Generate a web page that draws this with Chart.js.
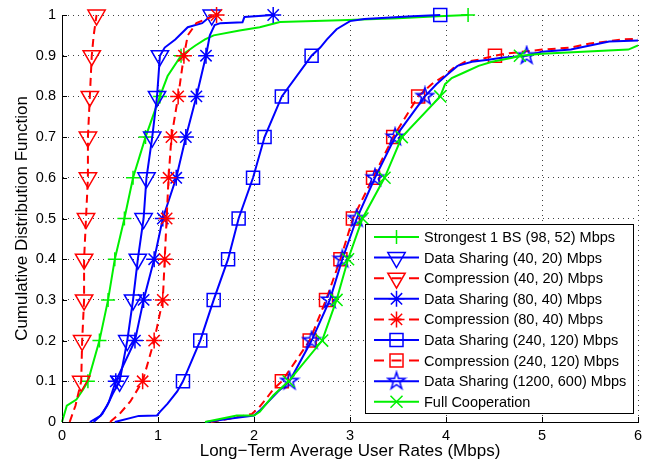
<!DOCTYPE html>
<html>
<head>
<meta charset="utf-8">
<script src="https://cdn.jsdelivr.net/npm/chart.js@4.4.0/dist/chart.umd.min.js"></script>
<style>
  html, body { margin: 0; padding: 0; background: #fff; }
</style>
</head>
<body>
<canvas id="cdf" width="650" height="462"></canvas>
<script>
// ------------------------------------------------------------
// data (x = rate in Mbps, y = CDF level)
// ------------------------------------------------------------
const xTicks = [0, 1, 2, 3, 4, 5, 6];
const xTickLabels = ['0', '1', '2', '3', '4', '5', '6'];
const yTicks = [0, 0.1, 0.2, 0.3, 0.4, 0.5, 0.6, 0.7, 0.8, 0.9, 1];
const yTickLabels = ['0', '0.1', '0.2', '0.3', '0.4', '0.5', '0.6', '0.7', '0.8', '0.9', '1'];

const seriesNames = [
    'Strongest 1 BS (98, 52) Mbps',
    'Data Sharing (40, 20) Mbps',
    'Compression (40, 20) Mbps',
    'Data Sharing (80, 40) Mbps',
    'Compression (80, 40) Mbps',
    'Data Sharing (240, 120) Mbps',
    'Compression (240, 120) Mbps',
    'Data Sharing (1200, 600) Mbps',
    'Full Cooperation'
];

const strongestX = [0, 0.05, 0.15, 0.22, 0.27, 0.39, 0.48, 0.55, 0.65, 0.74, 0.87, 1.02, 1.1, 1.24, 1.39, 1.49, 1.58, 1.85, 2.06, 2.27, 2.9, 3.5, 3.92, 4.23];
const strongestY = [0, 0.04, 0.055, 0.08, 0.1, 0.2, 0.3, 0.4, 0.5, 0.6, 0.7, 0.8, 0.85, 0.9, 0.925, 0.94, 0.95, 0.962, 0.97, 0.983, 0.987, 0.992, 0.997, 1];

const ds40X = [0.29, 0.4, 0.47, 0.53, 0.6, 0.68, 0.74, 0.79, 0.85, 0.88, 0.94, 0.99, 1.02, 1.07, 1.18, 1.31, 1.46, 1.56];
const ds40Y = [0, 0.015, 0.04, 0.07, 0.1, 0.2, 0.3, 0.4, 0.5, 0.6, 0.7, 0.8, 0.9, 0.92, 0.94, 0.97, 0.98, 1];

const comp40X = [0.08, 0.14, 0.2, 0.21, 0.23, 0.23, 0.25, 0.27, 0.27, 0.29, 0.31, 0.33, 0.36];
const comp40Y = [0, 0.04, 0.1, 0.2, 0.3, 0.4, 0.5, 0.6, 0.7, 0.8, 0.9, 0.95, 1];

const ds80X = [0.33, 0.42, 0.49, 0.56, 0.76, 0.85, 0.96, 1.05, 1.19, 1.29, 1.4, 1.5, 1.54, 1.59, 1.65, 1.88, 1.9, 2.2];
const ds80Y = [0, 0.02, 0.05, 0.1, 0.2, 0.3, 0.4, 0.5, 0.6, 0.7, 0.8, 0.9, 0.95, 0.975, 0.98, 0.982, 0.995, 1];

const comp80X = [0.5, 0.6, 0.71, 0.84, 0.96, 1.05, 1.07, 1.09, 1.11, 1.14, 1.21, 1.27, 1.31, 1.4, 1.5, 1.61];
const comp80Y = [0, 0.02, 0.05, 0.1, 0.2, 0.3, 0.4, 0.5, 0.6, 0.7, 0.8, 0.9, 0.95, 0.98, 0.99, 1];

const ds240X = [0.55, 0.8, 0.99, 1.02, 1.1, 1.2, 1.26, 1.44, 1.58, 1.73, 1.84, 1.99, 2.11, 2.29, 2.6, 2.69, 2.76, 2.86, 3.0, 3.15, 3.65, 3.94];
const ds240Y = [0, 0.015, 0.016, 0.025, 0.045, 0.075, 0.1, 0.2, 0.3, 0.4, 0.5, 0.6, 0.7, 0.8, 0.9, 0.92, 0.94, 0.965, 0.985, 0.99, 0.997, 1];

const comp240X = [1.55, 1.85, 1.98, 2.05, 2.12, 2.2, 2.29, 2.58, 2.75, 2.9, 3.03, 3.24, 3.45, 3.71, 3.85, 3.98, 4.08, 4.2, 4.34, 4.51, 4.62, 5.0, 5.3, 5.5, 5.85, 6.3];
const comp240Y = [0, 0.013, 0.02, 0.035, 0.055, 0.08, 0.1, 0.2, 0.3, 0.4, 0.5, 0.6, 0.7, 0.8, 0.83, 0.85, 0.87, 0.885, 0.89, 0.9, 0.905, 0.915, 0.92, 0.93, 0.94, 0.945];

const ds1200X = [1.5, 1.8, 2.0, 2.06, 2.15, 2.25, 2.37, 2.6, 2.79, 2.92, 3.07, 3.26, 3.47, 3.78, 3.9, 4.02, 4.12, 4.27, 4.44, 4.58, 4.84, 5.0, 5.3, 5.4, 5.7, 6.3];
const ds1200Y = [0, 0.01, 0.016, 0.028, 0.05, 0.075, 0.1, 0.2, 0.3, 0.4, 0.5, 0.6, 0.7, 0.8, 0.83, 0.855, 0.875, 0.885, 0.89, 0.895, 0.9, 0.91, 0.915, 0.92, 0.935, 0.94];

const fullX = [1.49, 1.72, 1.82, 2.0, 2.06, 2.13, 2.2, 2.36, 2.71, 2.86, 2.98, 3.13, 3.36, 3.54, 3.94, 3.99, 4.06, 4.2, 4.34, 4.48, 4.69, 4.77, 5.0, 5.9, 6.0, 6.3];
const fullY = [0, 0.011, 0.016, 0.016, 0.025, 0.045, 0.065, 0.1, 0.2, 0.3, 0.4, 0.5, 0.6, 0.7, 0.8, 0.83, 0.845, 0.86, 0.875, 0.885, 0.895, 0.9, 0.905, 0.915, 0.925, 0.93];

const seriesX = [strongestX, ds40X, comp40X, ds80X, comp80X, ds240X, comp240X, ds1200X, fullX];
const seriesY = [strongestY, ds40Y, comp40Y, ds80Y, comp80Y, ds240Y, comp240Y, ds1200Y, fullY];

// ------------------------------------------------------------
// look of each curve (matlab style: g, b, r, -- for compression)
// ------------------------------------------------------------
const GREEN = '#00f000', BLUE = '#0000ff', RED = '#ff0000';
const FONT = '"Liberation Sans", Arial, Helvetica, sans-serif';

// hollow pentagram, matlab 'p' marker
function makePentagram(color, R) {
    const c = document.createElement('canvas');
    const size = Math.ceil(R * 2 + 4);
    c.width = size; c.height = size;
    const g = c.getContext('2d');
    const cx = size / 2, cy = size / 2, r = R * 0.382;
    g.beginPath();
    for (let k = 0; k < 10; k++) {
        const a = -Math.PI / 2 + k * Math.PI / 5;
        const rr = k % 2 ? r : R;
        const px = cx + rr * Math.cos(a), py = cy + rr * Math.sin(a);
        k ? g.lineTo(px, py) : g.moveTo(px, py);
    }
    g.closePath();
    g.strokeStyle = color;
    g.lineWidth = 1.5;
    g.stroke();
    return c;
}

const looks = [
    { color: GREEN, dash: [], marker: 'cross', rot: 0, r: 7 },
    { color: BLUE, dash: [], marker: 'triangle', rot: 180, r: 10 },
    { color: RED, dash: [8, 5], marker: 'triangle', rot: 180, r: 10 },
    { color: BLUE, dash: [], marker: 'star', rot: 0, r: 8 },
    { color: RED, dash: [8, 5], marker: 'star', rot: 0, r: 8 },
    { color: BLUE, dash: [], marker: 'rect', rot: 0, r: 9.2 },
    { color: RED, dash: [8, 5], marker: 'rect', rot: 0, r: 9.2 },
    { color: BLUE, dash: [], marker: makePentagram(BLUE, 9), rot: 0, r: 9 },
    { color: GREEN, dash: [], marker: 'crossRot', rot: 0, r: 8.5 }
];

// markers sit on the 0.1, 0.2 ... 1.0 levels of each curve
function onMarkerLevel(y) {
    return y > 0 && Math.abs(y * 10 - Math.round(y * 10)) < 1e-9;
}

const datasets = seriesNames.map((name, i) => ({
    label: name,
    data: seriesX[i].map((x, k) => ({ x: x, y: seriesY[i][k] })),
    borderColor: looks[i].color,
    borderWidth: 2,
    borderDash: looks[i].dash,
    pointStyle: looks[i].marker,
    pointRotation: looks[i].rot,
    pointBorderColor: looks[i].color,
    pointBackgroundColor: 'rgba(0,0,0,0)',
    pointBorderWidth: 1.5,
    pointRadius: ctx => (onMarkerLevel(ctx.raw.y) ? looks[i].r : 0),
    tension: 0,
    fill: false,
    clip: { left: 10, top: 15, right: 0, bottom: 10 },
    order: seriesNames.length - i   // later curves on top, like matlab
}));

// ------------------------------------------------------------
// inward ticks + legend box in the lower right corner
// ------------------------------------------------------------
const matlabAxes = {
    id: 'matlabAxes',
    afterDatasetsDraw(chart) {
        const { ctx, chartArea, scales } = chart;
        ctx.save();
        ctx.strokeStyle = '#000';
        ctx.lineWidth = 1;
        ctx.beginPath();
        xTicks.forEach(v => {
            const px = Math.round(scales.x.getPixelForValue(v)) + 0.5;
            ctx.moveTo(px, chartArea.bottom);
            ctx.lineTo(px, chartArea.bottom - 5);
        });
        yTicks.forEach(v => {
            const py = Math.round(scales.y.getPixelForValue(v)) + 0.5;
            ctx.moveTo(chartArea.left, py);
            ctx.lineTo(chartArea.left + 5, py);
        });
        ctx.stroke();
        ctx.restore();
    },
    afterDraw(chart) {
        const { ctx, chartArea } = chart;
        ctx.save();
        ctx.font = '14.5px ' + FONT;
        const textW = Math.max(...seriesNames.map(n => ctx.measureText(n).width));
        const rowH = 20.6;
        const w = 9 + 45 + 5 + textW + 7;
        const h = 13 + rowH * (seriesNames.length - 1) + 11;
        const x0 = Math.round(chartArea.right - 5 - w);
        const y0 = Math.round(chartArea.bottom - 9 - h);

        ctx.fillStyle = '#fff';
        ctx.fillRect(x0, y0, w, h);
        ctx.strokeStyle = '#000';
        ctx.lineWidth = 1;
        ctx.strokeRect(x0 + 0.5, y0 + 0.5, Math.round(w), Math.round(h));

        chart.data.datasets.forEach((ds, i) => {
            const cy = y0 + 13 + i * rowH;
            const lx = x0 + 9;
            ctx.strokeStyle = ds.borderColor;
            ctx.lineWidth = ds.borderWidth;
            ctx.setLineDash(ds.borderDash.length ? [10, 7.5] : []);
            ctx.beginPath();
            ctx.moveTo(lx, cy);
            ctx.lineTo(lx + 45, cy);
            ctx.stroke();
            ctx.setLineDash([]);

            ctx.fillStyle = 'rgba(0,0,0,0)';
            ctx.lineWidth = ds.pointBorderWidth;
            Chart.helpers.drawPoint(ctx, {
                pointStyle: ds.pointStyle,
                rotation: ds.pointRotation,
                radius: looks[i].r,
                borderWidth: ds.pointBorderWidth
            }, lx + 22.5, cy);

            ctx.fillStyle = '#000';
            ctx.textAlign = 'left';
            ctx.textBaseline = 'middle';
            ctx.fillText(seriesNames[i], lx + 50, cy + 1);
        });
        ctx.restore();
    }
};

// ------------------------------------------------------------
// chart
// ------------------------------------------------------------
const tickFont = { family: FONT, size: 14.5 };
const titleFont = { family: FONT, size: 17 };
const gridLook = { color: 'rgba(0,0,0,0.75)', lineWidth: 1, drawTicks: false };
const borderLook = { display: true, color: '#000', width: 1, dash: [1, 4] };

new Chart(document.getElementById('cdf'), {
    type: 'line',
    data: { datasets: datasets },
    options: {
        responsive: false,
        animation: false,
        events: [],
        layout: { padding: { top: 15, right: 12, left: 0, bottom: 0 } },
        plugins: {
            legend: { display: false },
            tooltip: { enabled: false }
        },
        scales: {
            x: {
                type: 'linear',
                min: 0,
                max: 6,
                afterBuildTicks: s => { s.ticks = xTicks.map(v => ({ value: v })); },
                afterFit: s => { s.height = 40; },
                ticks: {
                    callback: (v, i) => xTickLabels[i],
                    color: '#000',
                    font: tickFont,
                    padding: 5,
                    maxRotation: 0,
                    autoSkip: false
                },
                grid: gridLook,
                border: borderLook,
                title: {
                    display: true,
                    text: 'Long\u2212Term Average User Rates (Mbps)',
                    color: '#000',
                    font: titleFont,
                    padding: { top: 0, bottom: 0 }
                }
            },
            y: {
                type: 'linear',
                min: 0,
                max: 1,
                afterBuildTicks: s => { s.ticks = yTicks.map(v => ({ value: v })); },
                afterFit: s => { s.width = 62; },
                ticks: {
                    callback: (v, i) => yTickLabels[i],
                    color: '#000',
                    font: tickFont,
                    padding: 6,
                    autoSkip: false
                },
                grid: gridLook,
                border: borderLook,
                title: {
                    display: true,
                    text: 'Cumulative Distribution Function',
                    color: '#000',
                    font: titleFont,
                    padding: { top: 12, bottom: 0 }
                }
            }
        }
    },
    plugins: [matlabAxes]
});
</script>
</body>
</html>
